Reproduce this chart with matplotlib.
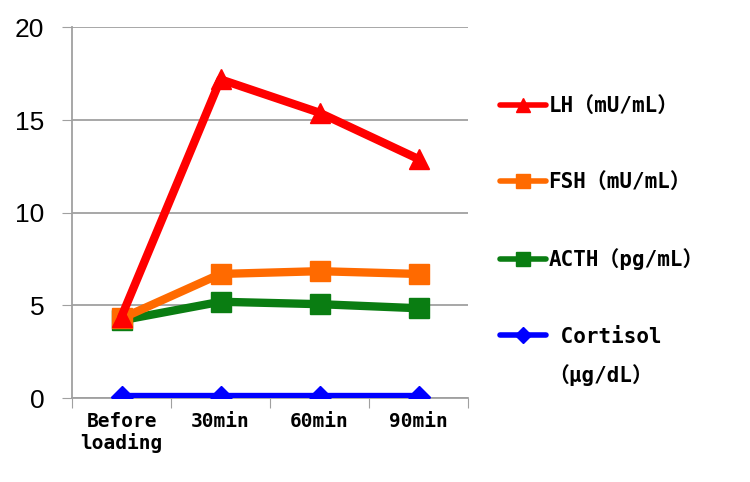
import matplotlib.pyplot as plt
from matplotlib.lines import Line2D

# data
times = ["Before\nloading", "30min", "60min", "90min"]
lh = [4.4, 17.2, 15.4, 12.9]
fsh = [4.3, 6.7, 6.85, 6.7]
acth = [4.2, 5.2, 5.07, 4.85]
cortisol = [0.08, 0.08, 0.08, 0.08]

labels = ["LH（mU/mL）", "FSH（mU/mL）", "ACTH（pg/mL）", " Cortisol"]
unit2 = "（μg/dL）"
colors = ["#ff0000", "#ff6a00", "#0a7d12", "#0000ff"]
markers = ["^", "s", "s", "D"]
msizes = [15, 14, 14, 11]
series = [lh, fsh, acth, cortisol]

mono = ["DejaVu Sans Mono", "Noto Sans CJK JP"]

fig = plt.figure(figsize=(7.5, 4.82), dpi=100)
ax = fig.add_axes([0.096, 0.174, 0.528, 0.769])

x = range(len(times))
# draw back to front so red sits on top like the original
for vals, c, m, ms in reversed(list(zip(series, colors, markers, msizes))):
    ax.plot(x, vals, color=c, lw=6, marker=m, markersize=ms,
            solid_capstyle="round", zorder=3)

ax.set_xlim(-0.5, 3.5)
ax.set_ylim(0, 20)
ax.set_yticks([0, 5, 10, 15, 20])
ax.set_xticks([-0.5, 0.5, 1.5, 2.5, 3.5])
ax.set_xticklabels([])
ax.set_xticks(list(x), minor=True)
ax.set_xticklabels(times, minor=True, family=mono, fontsize=14,
                   fontweight="bold", linespacing=1.15)
ax.tick_params(axis="x", which="minor", length=0, pad=10)
ax.tick_params(axis="x", which="major", length=7, color="#a0a0a0")
ax.tick_params(axis="y", length=7, color="#a0a0a0", pad=13,
               labelsize=19)
for t in ax.get_yticklabels():
    t.set_family(["Liberation Sans Narrow", "Liberation Sans"])

ax.grid(axis="y", color="#a0a0a0", lw=1.3, zorder=0)
ax.set_axisbelow(True)
for s in ["top", "right"]:
    ax.spines[s].set_visible(False)
for s in ["left", "bottom"]:
    ax.spines[s].set_color("#a0a0a0")
    ax.spines[s].set_linewidth(1.3)

handles = [Line2D([], [], color=c, lw=4, marker=m, markersize=ms * 0.7,
                  solid_capstyle="round")
           for c, m, ms in zip(colors, markers, msizes)]
fig.legend(handles, labels, loc="upper left", bbox_to_anchor=(0.641, 0.84),
           frameon=False, prop={"family": mono, "size": 15, "weight": "bold"},
           handlelength=2.25, handletextpad=0.1, labelspacing=2.7)
fig.text(548 / 750, 1 - 375 / 482, unit2, family=mono, fontsize=15,
         fontweight="bold", va="center", ha="left")

fig.savefig("out.png", dpi=100)
